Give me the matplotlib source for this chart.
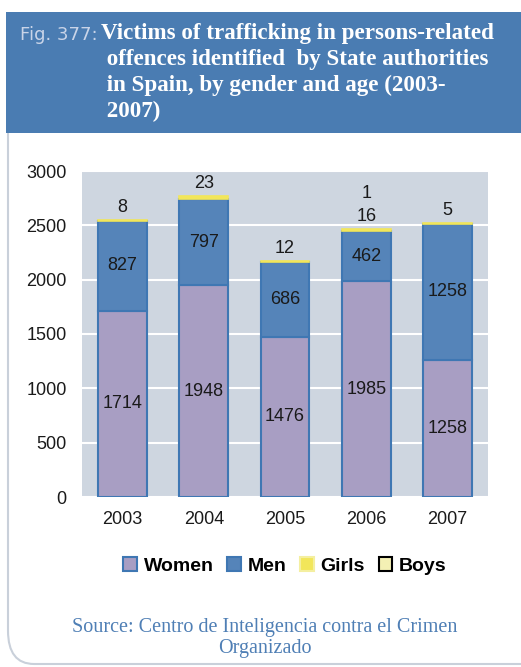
import numpy as np
import matplotlib.pyplot as plt
from matplotlib.patches import Rectangle, FancyBboxPatch

YEARS = ["2003", "2004", "2005", "2006", "2007"]
WOMEN = [1714, 1948, 1476, 1985, 1258]
MEN = [827, 797, 686, 462, 1258]
GIRLS = [8, 23, 12, 16, 5]
BOYS = [0, 0, 0, 1, 0]

C_WOMEN = "#A89EC3"
C_MEN = "#5584B9"
C_GIRLS = "#F2E65A"
C_BOYS = "#F4F0B4"
C_EDGE = "#3F77B3"
C_HEAD = "#4A7CB2"

W, H = 521, 667


def main():
    plt.rcParams["font.family"] = ["Liberation Sans", "DejaVu Sans"]
    fig = plt.figure(figsize=(W / 100, H / 100), dpi=100)
    fig.patch.set_facecolor("white")

    # panel border with rounded bottom-left corner
    fig.patches.append(FancyBboxPatch((8 / W, 3 / H), 560 / W, 640 / H,
                                      boxstyle="round,pad=0,rounding_size=0.05",
                                      transform=fig.transFigure, fc="none",
                                      ec="#C9D0DA", lw=1.5, zorder=0))
    # blue header
    fig.patches.append(Rectangle((6 / W, 1 - 133 / H), (W - 6) / W, 121 / H,
                                 transform=fig.transFigure, fc=C_HEAD, ec="none", zorder=1))

    fig.text(20 / W, 1 - 35 / H, "Fig. 377:", color="#C9D4E8", fontsize=13,
             family="DejaVu Sans", va="center", ha="left", zorder=2)
    title = ("Victims of trafficking in persons-related\n"
             " offences identified  by State authorities\n"
             " in Spain, by gender and age (2003-\n"
             " 2007)")
    fig.text(101 / W, 1 - 23 / H, title, color="white", fontsize=16.6,
             family="Liberation Serif", weight="bold", va="top", ha="left",
             linespacing=1.3, zorder=2)

    ax = fig.add_axes([82 / W, 1 - 497 / H, 406 / W, 326 / H])
    ax.set_zorder(3)
    ax.set_facecolor("#CED6E0")
    x = np.arange(len(YEARS))
    bw = 0.6
    women = np.array(WOMEN)
    men = np.array(MEN)
    girls = np.array(GIRLS)
    boys = np.array(BOYS)

    ax.bar(x, women, bw, color=C_WOMEN, edgecolor=C_EDGE, lw=1.5, zorder=3)
    ax.bar(x, men, bw, bottom=women, color=C_MEN, edgecolor=C_EDGE, lw=1.5, zorder=3)
    ax.bar(x, girls, bw, bottom=women + men, color=C_GIRLS, edgecolor=C_GIRLS, lw=1.2, zorder=3.1)
    ax.bar(x, boys, bw, bottom=women + men + girls, color=C_BOYS, edgecolor="black", lw=0, zorder=3)

    for i in range(len(YEARS)):
        ax.text(x[i], women[i] / 2, str(WOMEN[i]), ha="center", va="center",
                fontsize=13, color="#1a1a1a", zorder=4)
        ax.text(x[i], women[i] + men[i] / 2, str(MEN[i]), ha="center", va="center",
                fontsize=13, color="#1a1a1a", zorder=4)
        top = women[i] + men[i] + girls[i] + boys[i]
        ax.annotate(str(GIRLS[i]), (x[i], top), xytext=(0, 9), textcoords="offset points",
                    ha="center", va="center", fontsize=13, color="#1a1a1a", zorder=4)
        if BOYS[i]:
            ax.annotate(str(BOYS[i]), (x[i], top), xytext=(0, 26), textcoords="offset points",
                        ha="center", va="center", fontsize=13, color="#1a1a1a", zorder=4)

    ax.set_xlim(-0.5, len(YEARS) - 0.5)
    ax.set_ylim(0, 3000)
    ax.set_yticks(range(0, 3001, 500))
    ax.set_xticks(x)
    ax.set_xticklabels(YEARS)
    ax.yaxis.grid(True, color="white", lw=1.5, zorder=0)
    ax.set_axisbelow(True)
    ax.tick_params(length=0, labelsize=13, labelcolor="#1a1a1a")
    ax.tick_params(axis="y", pad=11)
    ax.tick_params(axis="x", pad=10)
    for s in ax.spines.values():
        s.set_visible(False)

    handles = [Rectangle((0, 0), 1, 1, fc=C_WOMEN, ec=C_EDGE, lw=1.5),
               Rectangle((0, 0), 1, 1, fc=C_MEN, ec=C_EDGE, lw=1.5),
               Rectangle((0, 0), 1, 1, fc=C_GIRLS, ec="#F4EFA0", lw=1.5),
               Rectangle((0, 0), 1, 1, fc=C_BOYS, ec="black", lw=1.5)]
    fig.legend(handles, ["Women", "Men", "Girls", "Boys"], loc="center",
               bbox_to_anchor=(285 / W, 1 - 566 / H), ncol=4, frameon=False,
               prop={"family": "Liberation Sans", "weight": "bold", "size": 14},
               handlelength=0.7, handleheight=0.7, handletextpad=0.35,
               columnspacing=0.7)

    fig.text(265 / W, 1 - 638 / H, "Source: Centro de Inteligencia contra el Crimen\nOrganizado",
             color="#4F7FB5", fontsize=14.5, family="Liberation Serif", ha="center",
             va="center", linespacing=1.15)

    fig.savefig("out.png", dpi=100)


if __name__ == "__main__":
    main()
